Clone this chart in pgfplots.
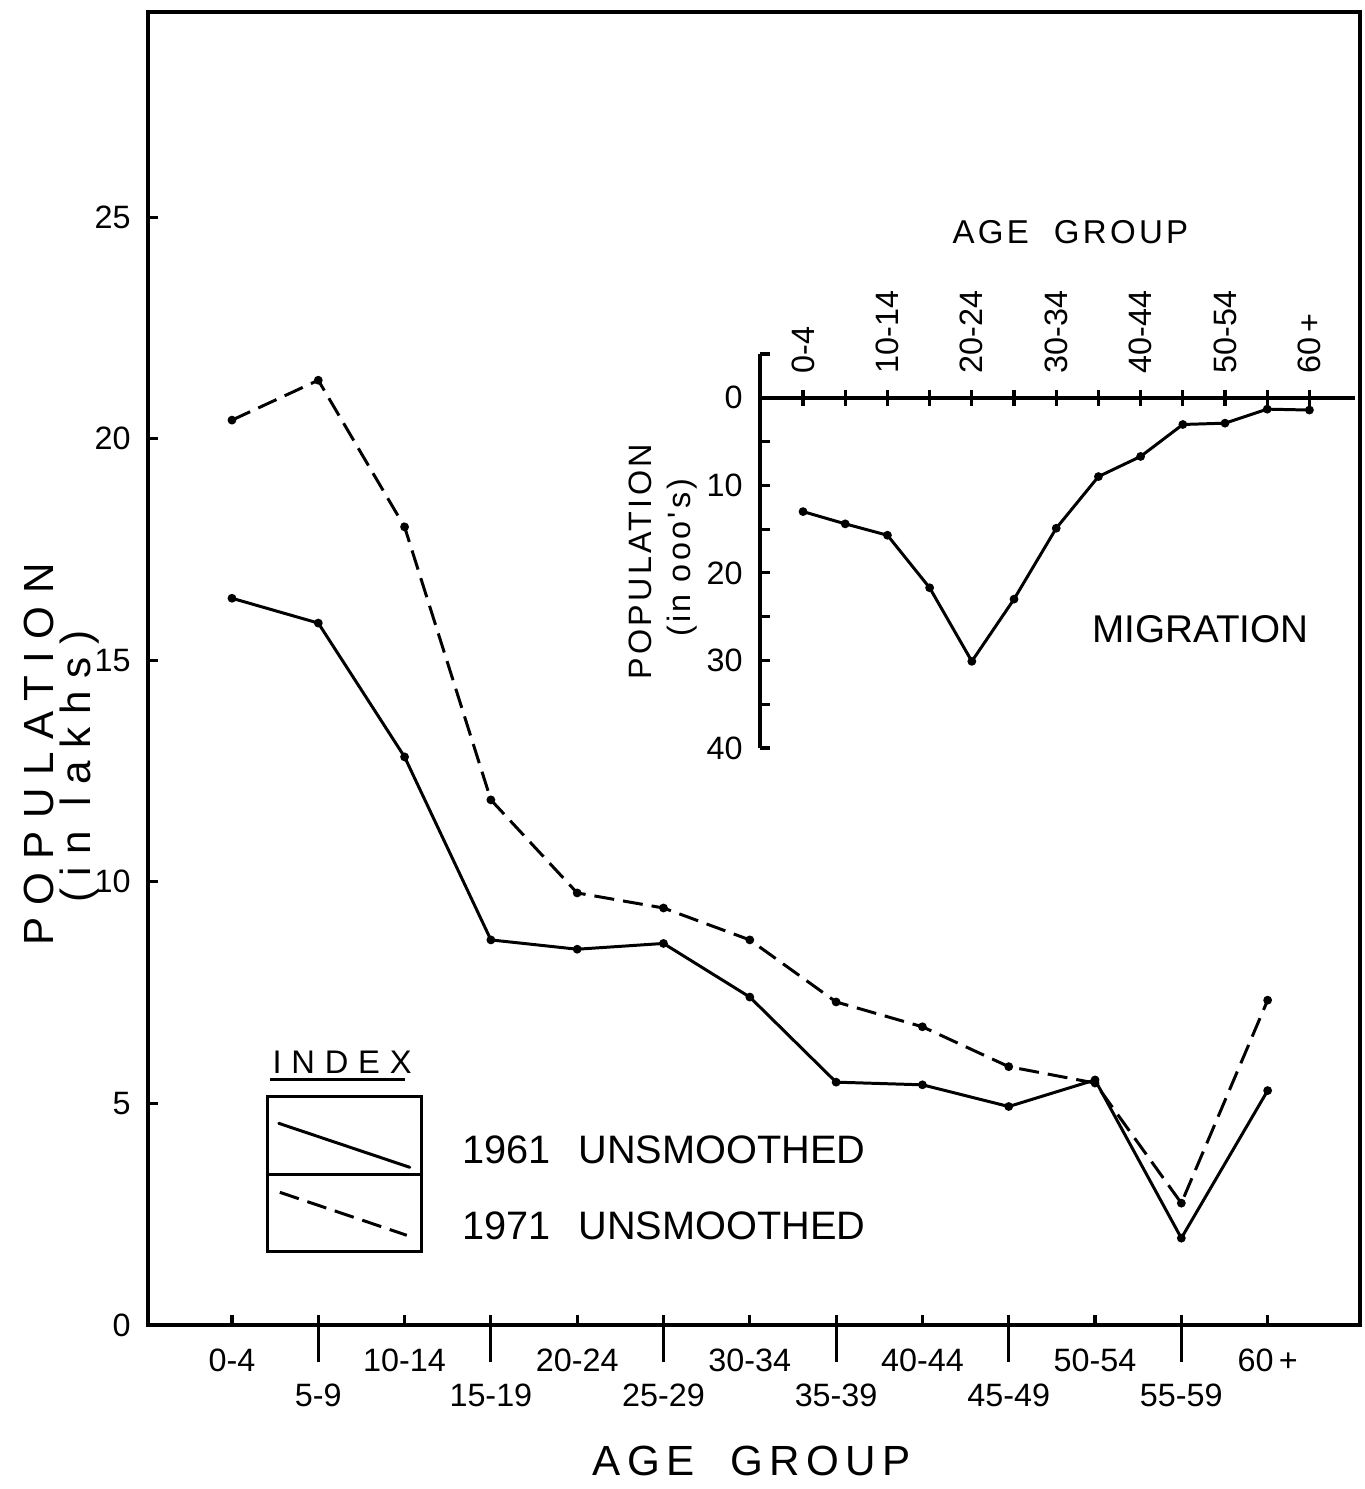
\documentclass[border=0pt]{standalone}
\usepackage{pgfplots}
\pgfplotsset{compat=1.18}
\usepackage{fontspec}
\setmainfont{Liberation Sans}
\newfontfamily\wideA[LetterSpace=30]{Liberation Sans}
\newfontfamily\wideB[LetterSpace=10]{Liberation Sans}
\newfontfamily\wideC[LetterSpace=15]{Liberation Sans}
\newcommand{\ticksize}{\fontsize{9.2}{11}\selectfont}

\begin{document}
\begin{tikzpicture}
\path[use as bounding box] (-1.48,-1.64) rectangle (12.16,13.25);

% main chart: population by age group
\begin{axis}[
  at={(0,0)}, anchor=south west,
  scale only axis, width=12.12cm, height=13.13cm,
  xmin=-0.973, xmax=13.07, ymin=0, ymax=29.63,
  axis line style={line width=1pt},
  tick pos=left, tick align=inside,
  major tick length=0.1cm, minor tick length=0.1cm,
  tick style={black, line width=0.9pt},
  xtick={0,2,...,12},
  xticklabels={0-4,10-14,20-24,30-34,40-44,50-54,60\,+},
  minor xtick={1,3,...,11},
  extra x ticks={1,3,...,11},
  extra x tick labels={5-9,15-19,25-29,35-39,45-49,55-59},
  extra x tick style={tick align=outside, major tick length=0.37cm,
    xticklabel style={yshift=0.03cm}},
  xticklabel style={yshift=-0.12cm},
  ytick={0,5,...,25},
  yticklabel style={xshift=-0.05cm},
  tick label style={font=\ticksize},
  /pgf/number format/assume math mode=true,
]
% 1961 unsmoothed
\addplot[black, line width=0.85pt, mark=*, mark size=0.8pt] coordinates {
  (0,16.40) (1,15.84) (2,12.82) (3,8.69) (4,8.48) (5,8.61) (6,7.40)
  (7,5.48) (8,5.42) (9,4.93) (10,5.53) (11,1.96) (12,5.29)};
% 1971 unsmoothed
\addplot[black, line width=0.85pt, dash pattern=on 0.2cm off 0.09cm,
  mark=*, mark size=0.8pt, mark options={solid}] coordinates {
  (0,20.42) (1,21.32) (2,18.01) (3,11.85) (4,9.75) (5,9.41) (6,8.69)
  (7,7.29) (8,6.73) (9,5.83) (10,5.46) (11,2.75) (12,7.33)};
\end{axis}

% inset: migration by age group
\begin{axis}[
  at={(6.12cm,5.77cm)}, anchor=south west,
  scale only axis, width=5.95cm, height=3.94cm,
  xmin=-1.02, xmax=13.08, ymin=-5, ymax=40, y dir=reverse,
  axis x line*=middle, axis y line*=left,
  axis line style={line width=1pt},
  tick style={black, line width=0.9pt},
  xtick=\empty,
  extra x ticks={0,...,12},
  extra x tick labels={0-4,,10-14,,20-24,,30-34,,40-44,,50-54,,60\,+},
  extra x tick style={tick align=center, major tick length=0.16cm},
  xticklabel style={rotate=90, anchor=west, xshift=0.2cm, font=\ticksize},
  ytick={0,10,...,40}, minor ytick={-5,5,...,35},
  tick align=inside, major tick length=0.1cm, minor tick length=0.1cm,
  yticklabel style={font=\ticksize, xshift=-0.05cm},
  /pgf/number format/assume math mode=true,
]
\addplot[black, line width=0.85pt, mark=*, mark size=0.8pt] coordinates {
  (0,13.0) (1,14.4) (2,15.7) (3,21.7) (4,30.1) (5,23.0) (6,14.9)
  (7,9.0) (8,6.7) (9,3.05) (10,2.9) (11,1.3) (12,1.4)};
\end{axis}

% titles, labels and the index box
\begin{scope}[shift={(-1.48cm,13.25cm)}, x=0.01cm, y=-0.01cm]
  \node[font=\wideC\fontsize{12}{14}\selectfont] at (752,1462) {AGE\ \ GROUP};
  \node[rotate=90, font=\wideA\fontsize{12}{14}\selectfont] at (39,755) {POPULATION};
  \node[rotate=90, font=\wideA\fontsize{12}{14}\selectfont] at (80,767) {(in lakhs)};

  \node[font=\wideB\fontsize{9.4}{11}\selectfont] at (1071,232) {AGE\ \ GROUP};
  \node[rotate=90, font=\wideB\fontsize{9.2}{11}\selectfont] at (641,562) {POPULATION};
  \node[rotate=90, font=\wideB\fontsize{9.2}{11}\selectfont] at (683,558) {(in ooo's)};
  \node[font=\fontsize{11}{13}\selectfont] at (1201,630) {MIGRATION};

  \node[anchor=west, inner sep=0pt, font=\wideA\fontsize{9.3}{11}\selectfont] at (272,1063) {INDEX};
  \draw[line width=0.8pt] (270,1080) -- (405,1080);
  \draw[line width=0.9pt] (268,1097) rectangle (422,1252);
  \draw[line width=0.9pt] (268,1175) -- (422,1175);
  \draw[line width=0.85pt, line cap=round] (279,1124) -- (410,1168);
  \draw[line width=0.85pt, dash pattern=on 0.2cm off 0.09cm] (280,1193) -- (407,1236);
  \node[anchor=west, inner sep=0pt, font=\fontsize{11.3}{13}\selectfont] at (462,1150) {1961\hspace{0.7em}UNSMOOTHED};
  \node[anchor=west, inner sep=0pt, font=\fontsize{11.3}{13}\selectfont] at (462,1227) {1971\hspace{0.7em}UNSMOOTHED};
\end{scope}
\end{tikzpicture}
\end{document}
